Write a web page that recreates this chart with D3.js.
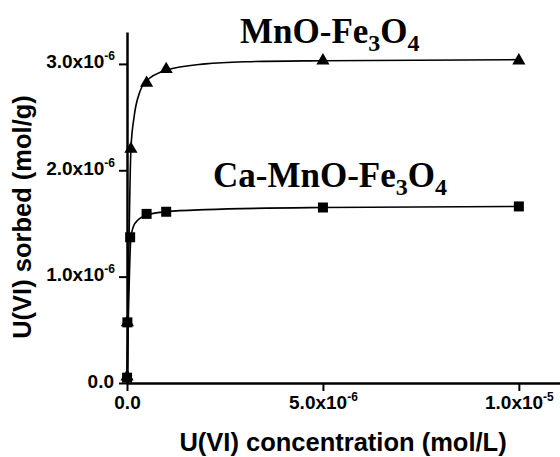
<!DOCTYPE html>
<html>
<head>
<meta charset="utf-8">
<script src="https://cdn.jsdelivr.net/npm/d3@7"></script>
<style>
  body { margin: 0; background: #fff; }
  svg { display: block; }
  .tick text { font-family: "Liberation Sans", Arial, sans-serif; font-weight: bold; font-size: 19px; fill: #000; }
  .title { font-family: "Liberation Sans", Arial, sans-serif; font-weight: bold; font-size: 25.5px; }
  .series { font-family: "Liberation Serif", "Times New Roman", serif; font-weight: bold; font-size: 35px; }
</style>
</head>
<body>
<div id="chart"></div>
<script>
// data (mol/L, mol/g)
const mnoX = [0.002e-6, 0.01e-6, 0.1e-6, 0.5e-6, 1e-6, 5e-6, 1e-5];
const mnoY = [0.06e-6, 0.57e-6, 2.2e-6, 2.82e-6, 2.95e-6, 3.03e-6, 3.03e-6];
const caX = [0.002e-6, 0.01e-6, 0.08e-6, 0.5e-6, 1e-6, 5e-6, 1e-5];
const caY = [0.05e-6, 0.57e-6, 1.37e-6, 1.59e-6, 1.61e-6, 1.65e-6, 1.66e-6];

// fitted curves
const mnoFitX = [0, 0.05e-6, 0.1e-6, 0.18e-6, 0.33e-6, 0.5e-6, 1e-6, 2e-6, 3e-6, 5e-6, 1e-5];
const mnoFitY = [0, 1.3e-6, 2.2e-6, 2.5e-6, 2.74e-6, 2.84e-6, 2.94e-6, 3.0e-6, 3.02e-6, 3.03e-6, 3.04e-6];
const caFitX = [0, 0.04e-6, 0.1e-6, 0.2e-6, 0.5e-6, 1e-6, 2e-6, 5e-6, 1e-5];
const caFitY = [0, 0.7e-6, 1.37e-6, 1.5e-6, 1.58e-6, 1.61e-6, 1.63e-6, 1.65e-6, 1.66e-6];

const xTicks = [0, 5e-6, 1e-5];
const xTickLabels = [["0.0", ""], ["5.0x10", "-6"], ["1.0x10", "-5"]];
const yTicks = [0, 1e-6, 2e-6, 3e-6];
const yTickLabels = [["0.0", ""], ["1.0x10", "-6"], ["2.0x10", "-6"], ["3.0x10", "-6"]];

const width = 560, height = 457;
const margin = { left: 127, top: 32, right: 0, bottom: 74 };

const svg = d3.select("#chart").append("svg")
    .attr("width", width)
    .attr("height", height);

const x = d3.scaleLinear().domain([0, 11.05e-6]).range([margin.left, width - margin.right]);
const y = d3.scaleLinear().domain([0, 3.30e-6]).range([height - margin.bottom, margin.top]);

// axes
const xAxis = svg.append("g")
    .attr("transform", `translate(0, ${ height - margin.bottom })`)
    .call(d3.axisBottom(x).tickValues(xTicks).tickSize(8).tickSizeOuter(0).tickFormat(""));
const yAxis = svg.append("g")
    .attr("transform", `translate(${ margin.left }, 0)`)
    .call(d3.axisLeft(y).tickValues(yTicks).tickSize(8).tickSizeOuter(0).tickFormat(""));

[xAxis, yAxis].forEach(g => {
    g.select(".domain").attr("stroke", "#000").attr("stroke-width", 2.5);
    g.selectAll(".tick line").attr("stroke", "#000").attr("stroke-width", 2);
});

function writeLabel(text, parts) {
    text.append("tspan").text(parts[0]);
    if (parts[1]) {
        text.append("tspan").attr("dy", -8).attr("font-size", 12).text(parts[1]);
    }
}

xAxis.selectAll(".tick").each(function(d, i) {
    const t = d3.select(this).select("text")
        .attr("y", 26).attr("dy", 0)
        .attr("text-anchor", "middle");
    writeLabel(t, xTickLabels[i]);
});

yAxis.selectAll(".tick").each(function(d, i) {
    const t = d3.select(this).select("text")
        .attr("x", -13).attr("dy", 4)
        .attr("text-anchor", "end");
    writeLabel(t, yTickLabels[i]);
    if (i > 0) t.attr("x", -12);
});

// fitted curves
const line = d3.line()
    .x(d => x(d[0]))
    .y(d => y(d[1]))
    .curve(d3.curveMonotoneX);

svg.append("path")
    .datum(mnoFitX.map((v, i) => [v, mnoFitY[i]]))
    .attr("fill", "none").attr("stroke", "#000").attr("stroke-width", 1.6)
    .attr("d", line);
svg.append("path")
    .datum(caFitX.map((v, i) => [v, caFitY[i]]))
    .attr("fill", "none").attr("stroke", "#000").attr("stroke-width", 1.6)
    .attr("d", line);

// markers
svg.selectAll(".tri")
    .data(mnoX.map((v, i) => [v, mnoY[i]]))
    .enter().append("path")
    .attr("class", "tri")
    .attr("transform", d => `translate(${ x(d[0]) }, ${ y(d[1]) })`)
    .attr("d", d3.symbol().type(d3.symbolTriangle).size(75))
    .attr("fill", "#000");

svg.selectAll(".sq")
    .data(caX.map((v, i) => [v, caY[i]]))
    .enter().append("rect")
    .attr("class", "sq")
    .attr("x", d => x(d[0]) - 5)
    .attr("y", d => y(d[1]) - 5)
    .attr("width", 10).attr("height", 10)
    .attr("fill", "#000");

// series labels
function seriesLabel(px, py, main) {
    const t = svg.append("text").attr("class", "series").attr("x", px).attr("y", py);
    t.append("tspan").text(main + "-Fe");
    t.append("tspan").attr("dy", 8).attr("font-size", 24).text("3");
    t.append("tspan").attr("dy", -8).text("O");
    t.append("tspan").attr("dy", 8).attr("font-size", 24).text("4");
}
seriesLabel(240, 43, "MnO");
seriesLabel(213, 187, "Ca-MnO");

// axis titles
svg.append("text").attr("class", "title")
    .attr("x", 343).attr("y", 451)
    .attr("text-anchor", "middle")
    .text("U(VI) concentration (mol/L)");
svg.append("text").attr("class", "title")
    .attr("transform", "translate(31, 217) rotate(-90)")
    .attr("text-anchor", "middle")
    .text("U(VI) sorbed (mol/g)");
</script>
</body>
</html>
